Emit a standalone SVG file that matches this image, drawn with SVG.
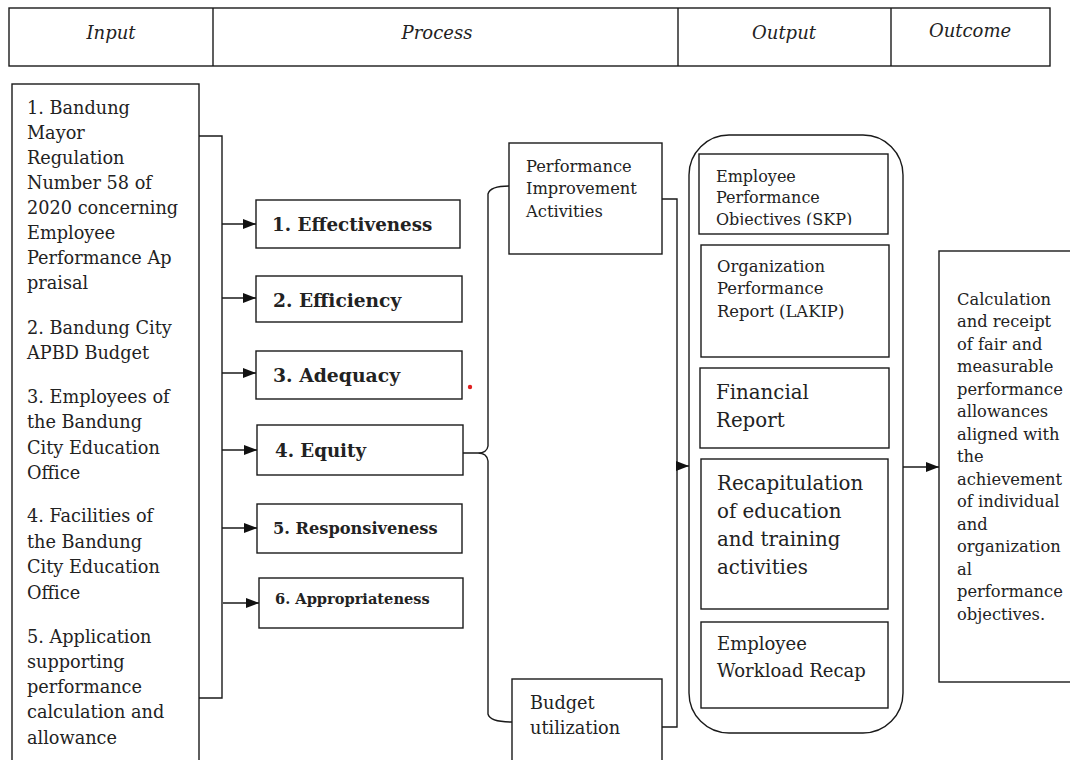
<svg xmlns="http://www.w3.org/2000/svg" width="1070" height="760" viewBox="0 0 1070 760">
<style>
.bx{fill:#fff;stroke:#1a1a1a;stroke-width:1.4}
.ln{fill:none;stroke:#1a1a1a;stroke-width:1.4}
.t{font-family:"DejaVu Serif","Liberation Serif",serif;fill:#222}
.hd{font-family:"DejaVu Serif","Liberation Serif",serif;font-style:italic;font-size:18px;fill:#222;text-anchor:middle}
.in{font-size:17.7px}
.pb{font-weight:bold}
</style>
<defs>
<marker id="ah" markerWidth="13" markerHeight="10" refX="13" refY="5" orient="auto" markerUnits="userSpaceOnUse">
<path d="M0,0 L13,5 L0,10 z" fill="#111"/>
</marker>
<clipPath id="skpClip"><rect x="700" y="155" width="188" height="70"/></clipPath>
</defs>

<g id="header">
<rect class="bx" x="9" y="8" width="1041" height="58"/>
<line class="ln" x1="213" y1="8" x2="213" y2="66"/>
<line class="ln" x1="678" y1="8" x2="678" y2="66"/>
<line class="ln" x1="891" y1="8" x2="891" y2="66"/>
<text class="hd" x="111" y="39">Input</text>
<text class="hd" x="437" y="39">Process</text>
<text class="hd" x="784" y="39">Output</text>
<text class="hd" x="970" y="37">Outcome</text>
</g>

<g id="input">
<rect class="bx" x="12" y="84" width="187" height="690"/>
<text class="t in" x="27">
<tspan x="27" y="114">1. Bandung</tspan>
<tspan x="27" y="139">Mayor</tspan>
<tspan x="27" y="164">Regulation</tspan>
<tspan x="27" y="189">Number 58 of</tspan>
<tspan x="27" y="214">2020 concerning</tspan>
<tspan x="27" y="239">Employee</tspan>
<tspan x="27" y="264">Performance Ap</tspan>
<tspan x="27" y="289">praisal</tspan>
<tspan x="27" y="334">2. Bandung City</tspan>
<tspan x="27" y="359">APBD Budget</tspan>
<tspan x="27" y="403">3. Employees of</tspan>
<tspan x="27" y="428">the Bandung</tspan>
<tspan x="27" y="454">City Education</tspan>
<tspan x="27" y="479">Office</tspan>
<tspan x="27" y="522">4. Facilities of</tspan>
<tspan x="27" y="548">the Bandung</tspan>
<tspan x="27" y="573">City Education</tspan>
<tspan x="27" y="599">Office</tspan>
<tspan x="27" y="643">5. Application</tspan>
<tspan x="27" y="668">supporting</tspan>
<tspan x="27" y="693">performance</tspan>
<tspan x="27" y="718">calculation and</tspan>
<tspan x="27" y="744">allowance</tspan>
</text>
</g>

<g id="p1"><rect class="bx" x="256" y="200" width="204" height="48"/><text class="t pb" x="272" y="231" font-size="18.3">1. Effectiveness</text></g>
<g id="p2"><rect class="bx" x="256" y="276" width="206" height="46"/><text class="t pb" x="273" y="307" font-size="18.6">2. Efficiency</text></g>
<g id="p3"><rect class="bx" x="256" y="351" width="206" height="48"/><text class="t pb" x="273" y="382" font-size="18.8">3. Adequacy</text></g>
<g id="p4"><rect class="bx" x="257" y="425" width="206" height="50"/><text class="t pb" x="275" y="457" font-size="18.2">4. Equity</text></g>
<g id="p5"><rect class="bx" x="257" y="504" width="205" height="49"/><text class="t pb" x="273" y="534" font-size="16.2">5. Responsiveness</text></g>
<g id="p6"><rect class="bx" x="259" y="578" width="204" height="50"/><text class="t pb" x="275" y="604" font-size="14.6">6. Appropriateness</text></g>

<g id="pia"><rect class="bx" x="509" y="143" width="153" height="111"/>
<text class="t" font-size="16.3"><tspan x="526" y="172">Performance</tspan><tspan x="526" y="194">Improvement</tspan><tspan x="526" y="217">Activities</tspan></text></g>

<g id="budget"><rect class="bx" x="512" y="679" width="150" height="95"/>
<text class="t" font-size="17.7"><tspan x="530" y="709">Budget</tspan><tspan x="530" y="734">utilization</tspan></text></g>

<g id="output">
<rect class="bx" x="689" y="135" width="214" height="598" rx="40" ry="40"/>
<g id="o1"><rect class="bx" x="699" y="154" width="189" height="80"/>
<text class="t" font-size="16" clip-path="url(#skpClip)"><tspan x="716" y="182">Employee</tspan><tspan x="716" y="203">Performance</tspan><tspan x="716" y="225">Objectives (SKP)</tspan></text></g>
<g id="o2"><rect class="bx" x="701" y="245" width="188" height="112"/>
<text class="t" font-size="16.4"><tspan x="717" y="272">Organization</tspan><tspan x="717" y="294">Performance</tspan><tspan x="717" y="317">Report (LAKIP)</tspan></text></g>
<g id="o3"><rect class="bx" x="700" y="368" width="189" height="80"/>
<text class="t" font-size="19.8"><tspan x="716" y="399">Financial</tspan><tspan x="716" y="427">Report</tspan></text></g>
<g id="o4"><rect class="bx" x="701" y="459" width="187" height="150"/>
<text class="t" font-size="19.8"><tspan x="717" y="490">Recapitulation</tspan><tspan x="717" y="518">of education</tspan><tspan x="717" y="546">and training</tspan><tspan x="717" y="574">activities</tspan></text></g>
<g id="o5"><rect class="bx" x="701" y="622" width="187" height="86"/>
<text class="t" font-size="18"><tspan x="717" y="650">Employee</tspan><tspan x="717" y="677">Workload Recap</tspan></text></g>
</g>

<g id="outcome"><rect class="bx" x="939" y="251" width="140" height="431"/>
<text class="t" font-size="16.3">
<tspan x="957" y="305">Calculation</tspan>
<tspan x="957" y="327">and receipt</tspan>
<tspan x="957" y="350">of fair and</tspan>
<tspan x="957" y="372">measurable</tspan>
<tspan x="957" y="395">performance</tspan>
<tspan x="957" y="417">allowances</tspan>
<tspan x="957" y="440">aligned with</tspan>
<tspan x="957" y="462">the</tspan>
<tspan x="957" y="485">achievement</tspan>
<tspan x="957" y="507">of individual</tspan>
<tspan x="957" y="530">and</tspan>
<tspan x="957" y="552">organization</tspan>
<tspan x="957" y="575">al</tspan>
<tspan x="957" y="597">performance</tspan>
<tspan x="957" y="620">objectives.</tspan>
</text></g>

<g id="connectors">
<polyline class="ln" points="199,136 222,136 222,698 199,698"/>
<line class="ln" x1="222" y1="224" x2="256" y2="224" marker-end="url(#ah)"/>
<line class="ln" x1="222" y1="298" x2="256" y2="298" marker-end="url(#ah)"/>
<line class="ln" x1="222" y1="373" x2="256" y2="373" marker-end="url(#ah)"/>
<line class="ln" x1="222" y1="450" x2="257" y2="450" marker-end="url(#ah)"/>
<line class="ln" x1="222" y1="528" x2="257" y2="528" marker-end="url(#ah)"/>
<line class="ln" x1="223" y1="603" x2="259" y2="603" marker-end="url(#ah)"/>
<path class="ln" d="M509,186 Q490,186 488,194 L488,446 Q487,453 478,453 L463,453 M478,453 Q487,453 488,461 L488,714 Q490,722 512,722"/>
<polyline class="ln" points="662,199 677,199 677,727 662,727"/>
<line class="ln" x1="677" y1="466" x2="689" y2="466" marker-end="url(#ah)"/>
<line class="ln" x1="903" y1="467" x2="939" y2="467" marker-end="url(#ah)"/>
</g>
<circle cx="470" cy="387" r="2.2" fill="#e02020"/>
</svg>
